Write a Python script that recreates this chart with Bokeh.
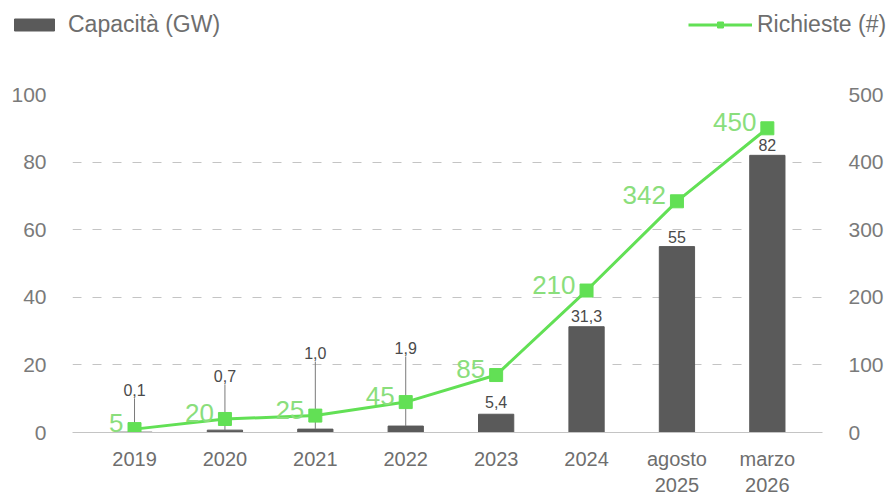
from bokeh.plotting import figure
from bokeh.layouts import column
from bokeh.models import (Range1d, LinearAxis, FixedTicker, Legend, LegendItem,
                          ColumnDataSource)
from bokeh.embed import file_html
from bokeh.resources import INLINE
from bokeh.core.properties import value

# ---------------- data ----------------
categories = ["2019", "2020", "2021", "2022", "2023", "2024", "agosto\n2025", "marzo\n2026"]
capacity_gw = [0.1, 0.7, 1.0, 1.9, 5.4, 31.3, 55, 82]
requests = [5, 20, 25, 45, 85, 210, 342, 450]
left_ticks = [0, 20, 40, 60, 80, 100]
right_ticks = [0, 100, 200, 300, 400, 500]
series_names = ["Capacità (GW)", "Richieste (#)"]

# ---------------- style ----------------
label_lift_px = [42, 54, 76, 78, 12, 11, 10, 10]   # how high each capacity label floats
FONT = "Liberation Sans"
BAR = "#5a5a5a"
GREEN = "#62e055"
GREEN_TXT = "#8ade7c"
GRAY_TXT = "#6e6e6e"
AX_TXT = "#7a7a7a"
FRAME_H = 340
TOP_H = 82

xs = list(range(len(categories)))
cap_labels = [(f"{v:.1f}" if v < 50 else f"{v:.0f}").replace(".", ",") for v in capacity_gw]

src = ColumnDataSource(dict(
    x=xs, cap=capacity_gw, req=requests, cap_label=cap_labels,
    req_label=[str(r) for r in requests],
    lift=[-l for l in label_lift_px],
))

p = figure(width=889, height=498 - TOP_H, output_backend="svg", toolbar_location=None,
           x_range=Range1d(-0.686, 7.61), y_range=Range1d(0, 100),
           min_border_left=72, min_border_right=67, min_border_top=12, min_border_bottom=59)
p.outline_line_color = None
p.background_fill_color = "white"
p.border_fill_color = "white"
p.extra_y_ranges = {"req": Range1d(0, 500)}

# grid
p.xgrid.grid_line_color = None
p.ygrid.ticker = FixedTicker(ticks=left_ticks)
p.ygrid.grid_line_color = "#c4c4c4"
p.ygrid.grid_line_dash = "9 11"
p.ygrid.grid_line_width = 1

# x axis
xa = p.xaxis[0]
xa.ticker = FixedTicker(ticks=xs)
xa.major_label_overrides = {i: c for i, c in zip(xs, categories)}
xa.major_label_text_font = FONT
xa.major_label_text_font_size = "20px"
xa.major_label_text_color = GRAY_TXT
xa.major_label_standoff = 9
xa.major_tick_line_color = None
xa.minor_tick_line_color = None
xa.axis_line_color = "#c4c4c4"

# left axis
ya = p.yaxis[0]
ya.ticker = FixedTicker(ticks=left_ticks)
ya.major_label_text_font = FONT
ya.major_label_text_font_size = "21px"
ya.major_label_text_color = AX_TXT
ya.major_label_standoff = 20
ya.axis_line_color = None
ya.major_tick_line_color = None
ya.minor_tick_line_color = None

# right axis
ra = LinearAxis(y_range_name="req", ticker=FixedTicker(ticks=right_ticks))
ra.major_label_text_font = FONT
ra.major_label_text_font_size = "21px"
ra.major_label_text_color = AX_TXT
ra.major_label_standoff = 20
ra.axis_line_color = None
ra.major_tick_line_color = None
ra.minor_tick_line_color = None
p.add_layout(ra, "right")

# bars
bars = p.vbar(x="x", top="cap", width=0.39, source=src, fill_color=BAR, line_color=BAR)

# leader lines for small bars
lx, ly0, ly1 = [], [], []
for x, v, l in zip(xs, capacity_gw, label_lift_px):
    if l > 20:
        lx.append(x)
        ly0.append(v)
        ly1.append(v + (l - 8) * 100.0 / FRAME_H)
p.segment(x0=lx, y0=ly0, x1=lx, y1=ly1, line_color="#7a7a7a", line_width=1)

# capacity labels
p.text(x="x", y="cap", text="cap_label", source=src, y_offset="lift",
       text_align="center", text_baseline="middle",
       text_font=value(FONT), text_font_size="16px", text_color="#4a4a4a")

# requests line
line = p.line(x="x", y="req", source=src, y_range_name="req", line_color=GREEN, line_width=3)
marks = p.scatter(x="x", y="req", source=src, y_range_name="req", marker="square", size=13,
                  fill_color=GREEN, line_color=GREEN)
p.text(x="x", y="req", text="req_label", source=src, y_range_name="req",
       x_offset=-11, y_offset=-6, text_align="right", text_baseline="alphabetic",
       text_font=value(FONT), text_font_size="26px", text_color=GREEN_TXT)

# ---------------- legend strip on top ----------------
lg = figure(width=889, height=TOP_H, output_backend="svg", toolbar_location=None,
            x_range=Range1d(-10, -9), y_range=Range1d(-10, -9),
            x_axis_type=None, y_axis_type=None,
            min_border_left=0, min_border_right=0, min_border_top=0, min_border_bottom=0)
lg.outline_line_color = None
lg.grid.visible = False
lg.background_fill_color = "white"
lg.border_fill_color = "white"
for fig in (lg, p):
    if "frame_align" in fig.properties():
        fig.frame_align = False
# key glyphs share the chart's source; the strip's ranges keep them out of view
k_bar = lg.vbar(x="x", top="cap", width=0.39, source=src, fill_color=BAR, line_color=BAR)
k_line = lg.line(x="x", y="req", source=src, line_color=GREEN, line_width=3)
k_mark = lg.scatter(x="x", y="req", source=src, marker="square", size=13,
                    fill_color=GREEN, line_color=GREEN)

common = dict(glyph_height=15, label_text_font=FONT, label_text_font_size="23px",
              label_text_color=GRAY_TXT, padding=0, margin=0, border_line_color=None,
              background_fill_alpha=0)
leg1 = Legend(items=[LegendItem(label=series_names[0], renderers=[k_bar])],
              location=(9, TOP_H - 38), glyph_width=50, label_standoff=9, **common)
leg2 = Legend(items=[LegendItem(label=series_names[1], renderers=[k_line, k_mark])],
              location=(688, TOP_H - 38), glyph_width=64, label_standoff=5, **common)
lg.add_layout(leg1, "center")
lg.add_layout(leg2, "center")

open("out.html", "w").write(file_html(column(lg, p, spacing=0), INLINE))
